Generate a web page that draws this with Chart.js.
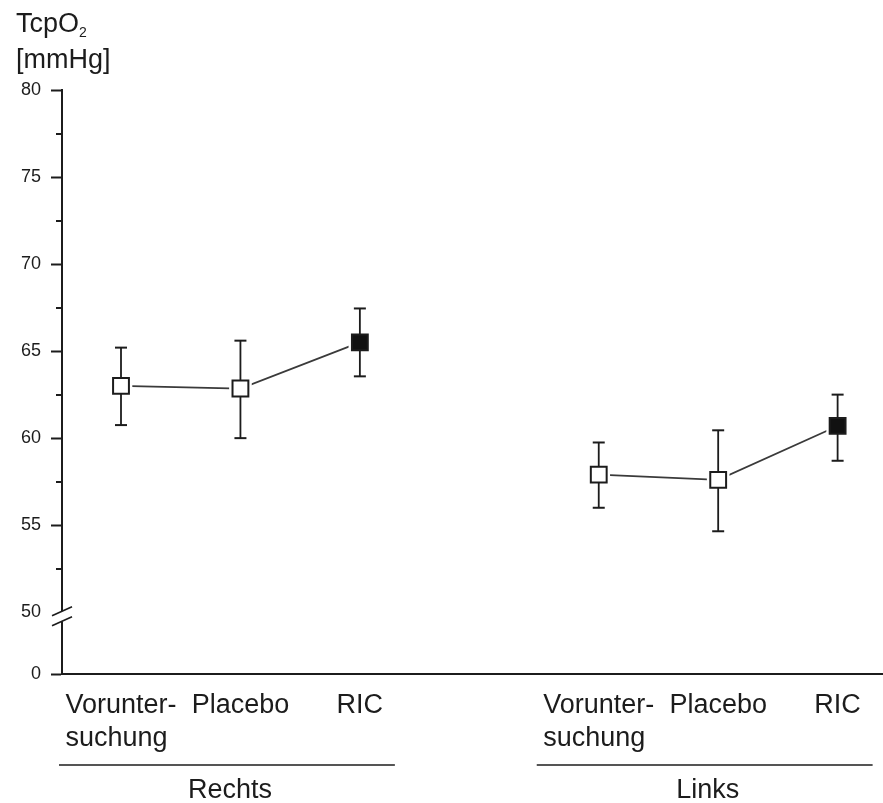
<!DOCTYPE html>
<html>
<head>
<meta charset="utf-8">
<script src="https://cdn.jsdelivr.net/npm/chart.js@4.4.1/dist/chart.umd.min.js"></script>
<style>
  html, body { margin: 0; padding: 0; background: #fff; overflow: hidden; }
  #wrap { width: 883px; height: 803px; position: relative; }
  canvas { display: block; }
</style>
</head>
<body>
<div id="wrap"><canvas id="tcpChart"></canvas></div>
<script>
// Daten
const groups = ['Rechts', 'Links'];
const conditions = [['Vorunter-', 'suchung'], ['Placebo'], ['RIC']];
const filledMarker = [false, false, true]; // RIC = gefülltes Quadrat

const meanRechts = [63.0, 62.85, 65.5];
const upperRechts = [65.2, 65.6, 67.45];
const lowerRechts = [60.75, 60.0, 63.55];

const meanLinks = [57.9, 57.6, 60.7];
const upperLinks = [59.75, 60.45, 62.5];
const lowerLinks = [56.0, 54.65, 58.7];

const yTickValues = [50, 55, 60, 65, 70, 75, 80];
const yMinorValues = [52.5, 57.5, 62.5, 67.5, 72.5, 77.5];
const yZeroValue = 46.45; // Position von "0" unterhalb des Achsenbruchs

const ink = '#1c1c1c';
const fontName = '"Liberation Sans", Arial, sans-serif';

const means = [meanRechts, meanLinks];
const uppers = [upperRechts, upperLinks];
const lowers = [lowerRechts, lowerLinks];

// Punkte aufbauen: x = Gruppe * 4 + Bedingung
const meanPts = [];
const linePts = [];
const whiskerPts = [];
const fillColors = [];
groups.forEach((g, gi) => {
    conditions.forEach((c, ci) => {
        const x = gi * 4 + ci;
        meanPts.push({ x: x, y: means[gi][ci] });
        linePts.push({ x: x, y: means[gi][ci] });
        whiskerPts.push({ x: x, y: lowers[gi][ci] });
        whiskerPts.push({ x: x, y: uppers[gi][ci] });
        whiskerPts.push({ x: x, y: null });
        fillColors.push(filledMarker[ci] ? '#111' : '#fff');
    });
    linePts.push({ x: gi * 4 + 3, y: null });
});

const extras = {
    id: 'extras',
    afterDraw(chart) {
        const c = chart.ctx;
        const xs = chart.scales.x;
        const ys = chart.scales.y;
        const area = chart.chartArea;
        const axisX = area.left;
        c.save();
        c.strokeStyle = ink;
        c.fillStyle = ink;

        // kleine Zwischenstriche
        c.lineWidth = 2;
        yMinorValues.forEach(v => {
            const py = Math.round(ys.getPixelForValue(v));
            c.beginPath();
            c.moveTo(axisX - 6, py);
            c.lineTo(axisX, py);
            c.stroke();
        });

        // Achsenbruch bei 50
        const p50 = ys.getPixelForValue(50) + 4;
        c.fillStyle = '#fff';
        c.fillRect(axisX - 3, p50 - 5, 6, 10);
        c.strokeStyle = ink;
        c.lineWidth = 1.6;
        [-5, 5].forEach(off => {
            c.beginPath();
            c.moveTo(axisX - 10, p50 + off + 4.5);
            c.lineTo(axisX + 10, p50 + off - 4.5);
            c.stroke();
        });

        // Achsentitel
        c.fillStyle = ink;
        c.textAlign = 'left';
        c.textBaseline = 'alphabetic';
        c.font = '27px ' + fontName;
        c.fillText('TcpO', 16, 32);
        const w = c.measureText('TcpO').width;
        c.font = '14px ' + fontName;
        c.fillText('2', 16 + w, 37);
        c.font = '27px ' + fontName;
        c.fillText('[mmHg]', 16, 68);

        // Kategorien und Gruppen
        const bottom = area.bottom;
        groups.forEach((g, gi) => {
            conditions.forEach((lines, ci) => {
                const px = xs.getPixelForValue(gi * 4 + ci);
                const left = px - c.measureText(lines[0]).width / 2;
                lines.forEach((t, k) => c.fillText(t, left, bottom + 39 + k * 33));
            });
            const x0 = xs.getPixelForValue(gi * 4) - 62;
            const x1 = xs.getPixelForValue(gi * 4 + 2) + 35;
            c.lineWidth = 1.5;
            c.beginPath();
            c.moveTo(x0, bottom + 91);
            c.lineTo(x1, bottom + 91);
            c.stroke();
            c.textAlign = 'center';
            c.fillText(g, (x0 + x1) / 2 + 3, bottom + 124);
            c.textAlign = 'left';
        });
        c.restore();
    }
};

const data = {
    datasets: [
        {
            label: 'Mittelwert',
            data: meanPts,
            showLine: false,
            pointStyle: 'rect',
            pointRadius: 11.2,
            pointBorderWidth: 2,
            pointBorderColor: ink,
            pointBackgroundColor: fillColors,
            order: 0
        },
        {
            label: 'Fehlerbalken',
            data: whiskerPts,
            showLine: true,
            spanGaps: false,
            borderColor: ink,
            borderWidth: 1.8,
            pointStyle: 'line',
            pointRadius: 6,
            pointBorderWidth: 2,
            pointBorderColor: ink,
            order: 1
        },
        {
            label: 'Abstand',
            data: meanPts,
            showLine: false,
            pointStyle: 'rect',
            pointRadius: 16,
            pointBorderWidth: 0,
            pointBackgroundColor: '#fff',
            order: 2
        },
        {
            label: 'Verlauf',
            data: linePts,
            showLine: true,
            spanGaps: false,
            borderColor: '#3a3a3a',
            borderWidth: 1.8,
            pointRadius: 0,
            order: 3
        }
    ]
};

const config = {
    type: 'scatter',
    data: data,
    plugins: [extras],
    options: {
        responsive: true,
        maintainAspectRatio: false,
        animation: false,
        layout: {
            autoPadding: false,
            padding: { top: 90, bottom: 129, left: 0, right: 0 }
        },
        scales: {
            x: {
                type: 'linear',
                min: -0.494,
                max: 6.38,
                grid: { display: false, drawTicks: false },
                border: { display: true, color: ink, width: 2 },
                ticks: { display: false },
                afterFit(scale) { scale.height = 0; }
            },
            y: {
                type: 'linear',
                min: yZeroValue,
                max: 80,
                afterBuildTicks(scale) {
                    scale.ticks = [yZeroValue].concat(yTickValues).map(v => ({ value: v }));
                },
                afterFit(scale) { scale.width = 62; },
                grid: {
                    drawOnChartArea: false,
                    drawTicks: true,
                    tickLength: 11,
                    tickWidth: 2,
                    tickColor: (ctx) => (ctx.tick && ctx.tick.value === 50) ? 'rgba(0,0,0,0)' : ink
                },
                border: { display: true, color: ink, width: 2 },
                ticks: {
                    padding: 10,
                    color: ink,
                    font: { family: fontName, size: 18 },
                    callback: (v) => v === yZeroValue ? '0' : String(v)
                }
            }
        },
        plugins: {
            legend: { display: false },
            tooltip: { enabled: false },
            title: { display: false }
        }
    }
};

const ctx = document.getElementById('tcpChart').getContext('2d');
const tcpChart = new Chart(ctx, config);
</script>
</body>
</html>
